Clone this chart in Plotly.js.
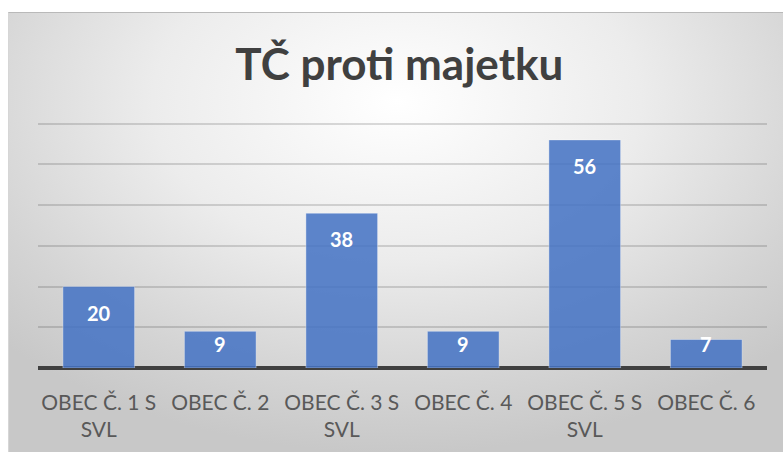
<!DOCTYPE html>
<html>
<head>
<meta charset="utf-8">
<script src="https://cdn.plot.ly/plotly-3.0.1.min.js"></script>
<style>
  html, body { margin: 0; padding: 0; background: #ffffff; }
  #wrap { position: relative; width: 783px; height: 452px; overflow: hidden; background: #ffffff; }
  #frame { position: absolute; left: 8px; top: 12px; width: 775px; height: 440px;
           border-top: 1px solid #b9b9b9; border-left: 1px solid #d6d6d6;
           background: radial-gradient(ellipse 70% 80% at 50% 20%, #ffffff 0%, #ececec 45%, #d4d4d4 80%, #c8c8c8 100%); }
  #chart { position: absolute; left: 0; top: 0; width: 783px; height: 452px; }
</style>
</head>
<body>
<div id="wrap"><div id="frame"></div><div id="chart"></div></div>
<script>
const categories = ["OBEC Č. 1 S<br>SVL", "OBEC Č. 2", "OBEC Č. 3 S<br>SVL", "OBEC Č. 4", "OBEC Č. 5 S<br>SVL", "OBEC Č. 6"];
const values = [20, 9, 38, 9, 56, 7];
const chartTitle = "TČ proti majetku";

const FONT = "Lato, 'Open Sans', sans-serif";

const trace = {
  type: "bar",
  x: categories,
  y: values,
  marker: { color: "rgba(68,114,196,0.86)", line: { color: "rgba(255,255,255,0.35)", width: 1 } },
  hoverinfo: "x+y"
};

// value labels placed inside near top of each bar (Excel "inside end")
const annotations = values.map((v, i) => ({
  x: categories[i],
  y: Math.max(v - 6.4, 5.9),
  xref: "x", yref: "y",
  text: String(v),
  showarrow: false,
  yanchor: "middle",
  font: { family: FONT, size: 20, color: "#ffffff", weight: 700 }
}));

const layout = {
  width: 783, height: 452,
  margin: { l: 38, r: 16, t: 122, b: 84 },
  paper_bgcolor: "rgba(0,0,0,0)",
  plot_bgcolor: "rgba(0,0,0,0)",
  title: {
    text: "<b>" + chartTitle + "</b>",
    x: 0.51, xanchor: "center",
    y: 0.856, yanchor: "middle",
    font: { family: FONT, size: 44, color: "#404040" }
  },
  bargap: 0.41,
  xaxis: {
    showgrid: false, showline: false, ticks: "",
    tickfont: { family: FONT, size: 21, color: "#595959" },
    ticklabelstandoff: 20,
    fixedrange: true
  },
  yaxis: {
    range: [0, 60.4], tickvals: [10, 20, 30, 40, 50, 60],
    showticklabels: false,
    showgrid: true, gridcolor: "rgba(0,0,0,0.14)", gridwidth: 2,
    zeroline: true, zerolinecolor: "#404040", zerolinewidth: 4,
    showline: false, ticks: "",
    fixedrange: true
  },
  annotations: annotations,
  showlegend: false
};

Plotly.newPlot("chart", [trace], layout, { displayModeBar: false, staticPlot: true });
</script>
</body>
</html>
